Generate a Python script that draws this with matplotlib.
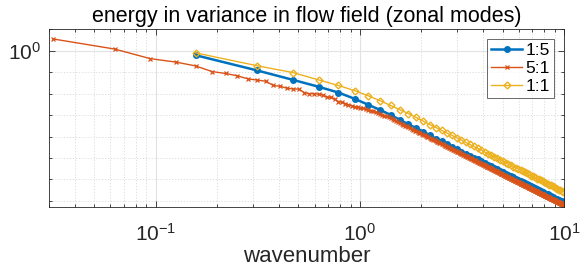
import numpy as np
import matplotlib
matplotlib.use("Agg")
import matplotlib.pyplot as plt
from matplotlib.ticker import FixedLocator, NullFormatter, FixedFormatter

plt.rcParams['font.family'] = ['Liberation Sans', 'DejaVu Sans']
plt.rcParams['mathtext.fontset'] = 'custom'
plt.rcParams['mathtext.rm'] = 'Liberation Sans'
plt.rcParams['mathtext.it'] = 'Liberation Sans'
plt.rcParams['mathtext.default'] = 'regular'

# ---- data ----
title = "energy in variance in flow field (zonal modes)"
xlabel = "wavenumber"
series_labels = ["1:5", "5:1", "1:1"]
domain_lengths = [40.0, 200.0, 40.0]          # wavenumber k = 2*pi*n/L
mode_counts = [63, 318, 63]

# log10(energy)
blue_log10 = [-0.21, -0.92, -1.36, -1.68, -1.95, -2.24, -2.52, -2.76, -2.99, -3.22,
              -3.43, -3.60, -3.77, -3.93, -4.10, -4.21, -4.33, -4.47, -4.59, -4.70,
              -4.80, -4.89, -4.98, -5.07, -5.15, -5.24, -5.31, -5.39, -5.46, -5.53,
              -5.60, -5.66, -5.73, -5.79, -5.85, -5.91, -5.96, -6.02, -6.07, -6.12,
              -6.17, -6.22, -6.27, -6.32, -6.36, -6.41, -6.45, -6.50, -6.54, -6.58,
              -6.62, -6.66, -6.70, -6.74, -6.78, -6.81, -6.85, -6.89, -6.92, -6.96,
              -6.99, -7.02, -7.06]

yellow_log10 = [-0.10, -0.70, -1.02, -1.36, -1.62, -1.86, -2.10, -2.33, -2.55, -2.75,
                -2.93, -3.11, -3.28, -3.44, -3.58, -3.71, -3.84, -3.95, -4.06, -4.17,
                -4.27, -4.37, -4.46, -4.55, -4.63, -4.72, -4.80, -4.87, -4.95, -5.02,
                -5.08, -5.15, -5.22, -5.28, -5.34, -5.40, -5.46, -5.51, -5.57, -5.62,
                -5.67, -5.72, -5.77, -5.82, -5.86, -5.91, -5.96, -6.00, -6.04, -6.09,
                -6.13, -6.17, -6.21, -6.25, -6.28, -6.32, -6.36, -6.40, -6.43, -6.47,
                -6.50, -6.54, -6.57]

red_log10 = [0.55, 0.08, -0.37, -0.53, -0.71, -0.97, -1.06, -1.17, -1.31, -1.37,
             -1.42, -1.62, -1.66, -1.75, -1.78, -1.79, -1.95, -2.01, -2.00, -2.03,
             -2.07, -2.16, -2.18, -2.27, -2.37, -2.41, -2.46, -2.52, -2.56, -2.60,
             -2.63, -2.67, -2.69, -2.72, -2.76, -2.79, -2.83, -2.87, -2.91, -2.95,
             -2.98, -3.02, -3.06, -3.10, -3.14, -3.18, -3.22, -3.27, -3.32, -3.37,
             -3.42, -3.45, -3.49, -3.53, -3.57, -3.60, -3.64, -3.68, -3.72, -3.75,
             -3.79, -3.82, -3.85, -3.88, -3.91, -3.95, -3.98, -4.01, -4.04, -4.07,
             -4.10, -4.13, -4.16, -4.18, -4.21, -4.24, -4.27, -4.29, -4.32, -4.35,
             -4.37, -4.40, -4.42, -4.45, -4.47, -4.50, -4.52, -4.54, -4.57, -4.59,
             -4.61, -4.64, -4.66, -4.68, -4.70, -4.72, -4.74, -4.77, -4.79, -4.81,
             -4.83, -4.85, -4.87, -4.89, -4.91, -4.93, -4.95, -4.97, -4.99, -5.01,
             -5.02, -5.04, -5.06, -5.08, -5.10, -5.11, -5.13, -5.15, -5.17, -5.18,
             -5.20, -5.22, -5.23, -5.25, -5.27, -5.28, -5.30, -5.32, -5.33, -5.35,
             -5.37, -5.38, -5.40, -5.41, -5.43, -5.44, -5.46, -5.47, -5.49, -5.50,
             -5.52, -5.53, -5.55, -5.56, -5.57, -5.59, -5.60, -5.62, -5.63, -5.64,
             -5.66, -5.67, -5.69, -5.70, -5.71, -5.73, -5.74, -5.75, -5.77, -5.78,
             -5.79, -5.80, -5.82, -5.83, -5.84, -5.85, -5.87, -5.88, -5.89, -5.90,
             -5.92, -5.93, -5.94, -5.95, -5.96, -5.97, -5.99, -6.00, -6.01, -6.02,
             -6.03, -6.04, -6.06, -6.07, -6.08, -6.09, -6.10, -6.11, -6.12, -6.13,
             -6.14, -6.15, -6.16, -6.17, -6.19, -6.20, -6.21, -6.22, -6.23, -6.24,
             -6.25, -6.26, -6.27, -6.28, -6.29, -6.30, -6.31, -6.32, -6.33, -6.34,
             -6.35, -6.36, -6.37, -6.38, -6.39, -6.40, -6.41, -6.42, -6.43, -6.44,
             -6.45, -6.45, -6.46, -6.47, -6.48, -6.49, -6.50, -6.51, -6.52, -6.53,
             -6.54, -6.54, -6.55, -6.56, -6.57, -6.58, -6.59, -6.60, -6.61, -6.61,
             -6.62, -6.63, -6.64, -6.65, -6.66, -6.67, -6.67, -6.68, -6.69, -6.70,
             -6.71, -6.72, -6.72, -6.73, -6.74, -6.75, -6.76, -6.76, -6.77, -6.78,
             -6.79, -6.80, -6.80, -6.81, -6.82, -6.83, -6.83, -6.84, -6.85, -6.86,
             -6.87, -6.87, -6.88, -6.89, -6.90, -6.90, -6.91, -6.92, -6.93, -6.93,
             -6.94, -6.95, -6.95, -6.96, -6.97, -6.98, -6.98, -6.99, -7.00, -7.00,
             -7.01, -7.02, -7.03, -7.03, -7.04, -7.05, -7.05, -7.06, -7.07, -7.07,
             -7.08, -7.09, -7.10, -7.10, -7.11, -7.12, -7.12, -7.13, -7.14, -7.14,
             -7.15, -7.16, -7.16, -7.17, -7.18, -7.18, -7.19, -7.20]

xlim = (0.03, 10.0)
ylim = (10 ** -7.3, 10.0)

# ---- style ----
colors = ["#0072BD", "#D95319", "#EDB120"]
axcol = "#262626"

fig = plt.figure(figsize=(5.83, 2.68), dpi=100)
ax = fig.add_axes([49 / 583, (268 - 207.3) / 268, 515 / 583, 178 / 268])

series = [blue_log10, red_log10, yellow_log10]
styles = [
    dict(marker='o', markersize=4, linewidth=1.8, markerfacecolor=colors[0]),
    dict(marker='x', markersize=3, linewidth=1.0, markeredgewidth=0.9),
    dict(marker='D', markersize=3.5, linewidth=1.0, markerfacecolor='none', markeredgewidth=1.0),
]
for vals, L, N, c, lab, st in zip(series, domain_lengths, mode_counts, colors, series_labels, styles):
    n = np.arange(1, N + 1)
    k = 2 * np.pi * n / L
    ax.plot(k, 10 ** np.asarray(vals), color=c, label=lab, **st)

ax.set_xscale('log')
ax.set_yscale('log')
ax.set_xlim(*xlim)
ax.set_ylim(*ylim)

# y ticks: single labelled major at 10^0, minor every decade
ax.yaxis.set_major_locator(FixedLocator([1.0]))
ax.yaxis.set_major_formatter(FixedFormatter([r'$10^{0}$']))
ax.yaxis.set_minor_locator(FixedLocator([10.0 ** e for e in range(-7, 2) if e != 0]))
ax.yaxis.set_minor_formatter(NullFormatter())

ax.xaxis.set_major_locator(FixedLocator([0.1, 1.0, 10.0]))
ax.xaxis.set_major_formatter(FixedFormatter([r'$10^{-1}$', r'$10^{0}$', r'$10^{1}$']))
xminor = [m * 10.0 ** e for e in (-2, -1, 0) for m in range(2, 10)]
ax.xaxis.set_minor_locator(FixedLocator([v for v in xminor if xlim[0] <= v <= xlim[1]]))
ax.xaxis.set_minor_formatter(NullFormatter())

ax.grid(True, which='major', color='#e2e2e2', linewidth=0.8, linestyle='-')
ax.grid(True, which='minor', color='#d9d9d9', linewidth=0.6, linestyle=(0, (1.5, 2)))
ax.set_axisbelow(True)

ax.tick_params(which='both', direction='in', top=True, right=True, colors=axcol,
               labelsize=15, width=0.6)
ax.tick_params(which='major', length=4)
ax.tick_params(which='minor', length=2.5)
ax.tick_params(axis='x', pad=11)
ax.tick_params(axis='y', pad=6)
for s in ax.spines.values():
    s.set_color(axcol)
    s.set_linewidth(0.6)

ax.set_title(title, fontsize=15.5, color='black', pad=5)
ax.set_xlabel(xlabel, fontsize=16, color=axcol, labelpad=1)

leg = ax.legend(loc='upper right', fontsize=12.5, frameon=True, fancybox=False,
                borderaxespad=0.55, handlelength=1.8, handletextpad=0.2,
                labelspacing=0.15, borderpad=0.25)
leg.get_frame().set_edgecolor(axcol)
leg.get_frame().set_linewidth(0.6)

fig.savefig("out.png", dpi=100)
